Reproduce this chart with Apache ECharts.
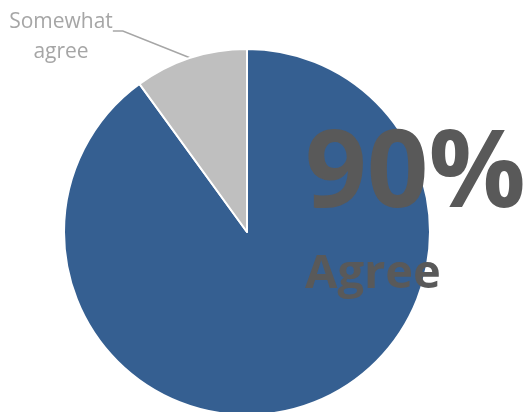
<!DOCTYPE html>
<html>
<head>
<meta charset="utf-8">
<style>
  html, body { margin: 0; padding: 0; background: #ffffff; }
  #chart { width: 524px; height: 412px; }
</style>
<script src="https://cdn.jsdelivr.net/npm/echarts@6/dist/echarts.min.js"></script>
</head>
<body>
<div id="chart"></div>
<script>
// Survey response shares
const categories = ['Agree', 'Somewhat agree'];
const shares = [90, 10];
const sliceColors = ['#355f91', '#bfbfbf'];
const headline = shares[0] + '%';
const headlineLabel = categories[0];

const chart = echarts.init(document.getElementById('chart'));

chart.setOption({
  animation: false,
  series: [{
    type: 'pie',
    center: [247, 232],
    radius: [0, 183],
    startAngle: 90,
    clockwise: true,
    itemStyle: { borderColor: '#ffffff', borderWidth: 2 },
    label: {
      show: true,
      position: 'outside',
      // a small spacer row on top lifts the leader-line anchor toward the first line
      formatter: function (p) {
        return '{s| }\n' + p.name.split(' ').map(function (w) { return '{t|' + w + '}'; }).join('\n');
      },
      align: 'center',
      padding: [0, 6, 0, 2],
      rich: {
        s: { fontSize: 1, lineHeight: 14 },
        t: { color: '#a6a6a6', fontFamily: 'Open Sans', fontSize: 21, lineHeight: 30 }
      }
    },
    labelLine: {
      show: true,
      length2: 10,
      lineStyle: { color: '#a6a6a6', width: 1.5 }
    },
    labelLayout: function (p) {
      if (p.dataIndex === 1) {
        return { x: 63, y: 30, align: 'center', verticalAlign: 'middle' };
      }
      return {};
    },
    data: categories.map(function (name, i) {
      const d = { name: name, value: shares[i], itemStyle: { color: sliceColors[i] } };
      if (i === 0) {
        d.label = { show: false };
        d.labelLine = { show: false };
      }
      return d;
    })
  }],
  graphic: [
    {
      type: 'text',
      left: 305,
      top: 122,
      z: 10,
      style: {
        text: headline,
        fill: '#595959',
        font: 'bold 108px "Open Sans"'
      }
    },
    {
      type: 'text',
      left: 305,
      top: 251,
      z: 10,
      style: {
        text: headlineLabel,
        fill: '#595959',
        font: 'bold 47px "Open Sans"'
      }
    }
  ]
});
</script>
</body>
</html>
